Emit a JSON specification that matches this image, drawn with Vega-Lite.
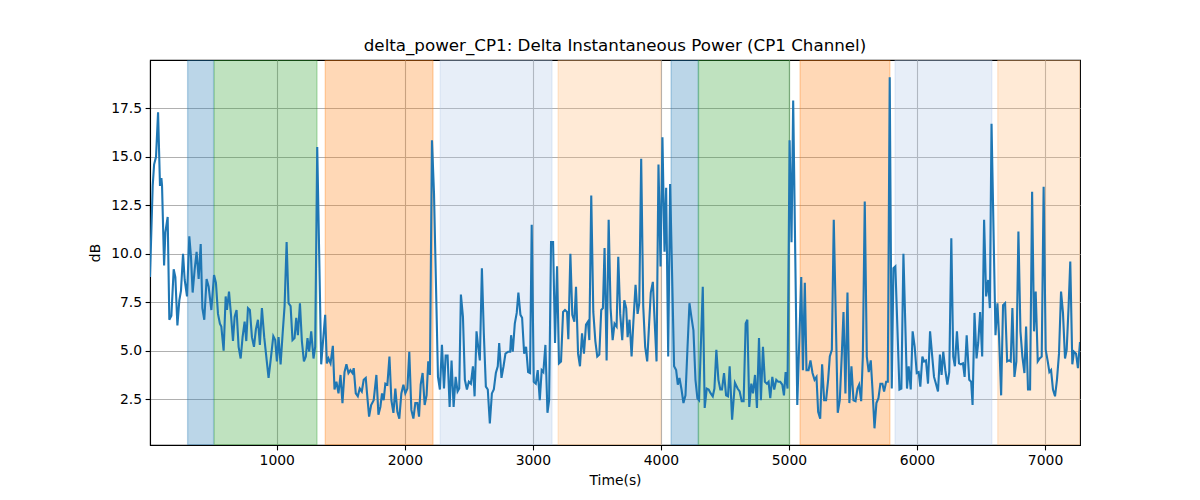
{
  "$schema": "https://vega.github.io/schema/vega-lite/v6.json",
  "autosize": {"type": "none"},
  "width": 930,
  "height": 385,
  "padding": {"left": 150, "top": 60, "right": 120, "bottom": 55},
  "background": "white",
  "config": {
    "font": "DejaVu Sans",
    "view": {"stroke": "black", "strokeWidth": 1.1},
    "axis": {
      "labelFont": "DejaVu Sans", "labelFontSize": 13.9, "labelColor": "black",
      "titleFont": "DejaVu Sans", "titleFontSize": 13.9, "titleFontWeight": "normal", "titleColor": "black",
      "domainColor": "black", "domainWidth": 1.1,
      "tickColor": "black", "tickSize": 4.9, "tickWidth": 1.1,
      "labelPadding": 3.5,
      "grid": true, "gridColor": "#b0b0b0", "gridWidth": 1.1
    },
    "title": {"font": "DejaVu Sans", "fontSize": 16.7, "fontWeight": "normal", "color": "black"}
  },
  "title": {"text": "delta_power_CP1: Delta Instantaneous Power (CP1 Channel)", "anchor": "middle", "frame": "group", "baseline": "alphabetic", "offset": -8},
  "datasets": {
    "bands": [
      {"start": 304, "end": 507, "kind": "A"},
      {"start": 512, "end": 1314, "kind": "B"},
      {"start": 1379, "end": 2220, "kind": "C"},
      {"start": 2277, "end": 3149, "kind": "D"},
      {"start": 3198, "end": 3998, "kind": "E"},
      {"start": 4080, "end": 4293, "kind": "A"},
      {"start": 4293, "end": 5004, "kind": "B"},
      {"start": 5087, "end": 5788, "kind": "C"},
      {"start": 5829, "end": 6584, "kind": "D"},
      {"start": 6631, "end": 7273, "kind": "E"}
    ],
    "signal": [
      {"t":10,"v":8.8},{"t":31,"v":13.5},{"t":42,"v":14.6},{"t":57,"v":15.0},{"t":73,"v":17.3},{"t":88,"v":13.5},{"t":99,"v":13.9},{"t":104,"v":13.5},{"t":120,"v":9.4},{"t":130,"v":11.1},
      {"t":148,"v":11.9},{"t":161,"v":6.6},{"t":177,"v":6.8},{"t":195,"v":9.2},{"t":208,"v":8.8},{"t":224,"v":6.3},{"t":239,"v":7.6},{"t":252,"v":8.1},{"t":268,"v":10.0},{"t":281,"v":8.65},
      {"t":299,"v":7.8},{"t":317,"v":10.9},{"t":330,"v":9.85},{"t":343,"v":8.0},{"t":359,"v":9.2},{"t":374,"v":10.1},{"t":390,"v":8.7},{"t":406,"v":10.5},{"t":419,"v":7.2},{"t":434,"v":6.6},
      {"t":452,"v":8.7},{"t":468,"v":8.3},{"t":489,"v":7.1},{"t":510,"v":8.9},{"t":525,"v":8.5},{"t":541,"v":6.9},{"t":556,"v":6.4},{"t":567,"v":6.25},{"t":585,"v":5.0},{"t":601,"v":7.8},
      {"t":611,"v":7.1},{"t":627,"v":8.05},{"t":642,"v":6.9},{"t":658,"v":5.5},{"t":671,"v":6.75},{"t":686,"v":7.1},{"t":702,"v":5.2},{"t":718,"v":4.6},{"t":733,"v":5.7},{"t":749,"v":6.5},
      {"t":762,"v":5.5},{"t":775,"v":7.2},{"t":790,"v":7.1},{"t":806,"v":5.7},{"t":822,"v":5.2},{"t":837,"v":6.1},{"t":853,"v":6.6},{"t":868,"v":5.3},{"t":884,"v":7.2},{"t":902,"v":5.7},
      {"t":936,"v":3.6},{"t":952,"v":4.5},{"t":973,"v":5.75},{"t":988,"v":5.55},{"t":1001,"v":4.45},{"t":1014,"v":5.7},{"t":1030,"v":4.3},{"t":1046,"v":5.9},{"t":1061,"v":7.3},{"t":1077,"v":10.6},
      {"t":1092,"v":7.45},{"t":1108,"v":7.3},{"t":1123,"v":5.55},{"t":1139,"v":5.65},{"t":1152,"v":6.7},{"t":1165,"v":5.8},{"t":1181,"v":7.45},{"t":1196,"v":5.5},{"t":1212,"v":4.45},{"t":1227,"v":4.7},
      {"t":1240,"v":5.65},{"t":1253,"v":4.95},{"t":1269,"v":6.0},{"t":1287,"v":4.6},{"t":1300,"v":5.2},{"t":1316,"v":15.5},{"t":1347,"v":4.3},{"t":1362,"v":5.55},{"t":1378,"v":6.85},{"t":1391,"v":4.35},
      {"t":1404,"v":4.6},{"t":1420,"v":4.35},{"t":1438,"v":5.25},{"t":1451,"v":3.0},{"t":1466,"v":3.4},{"t":1482,"v":2.8},{"t":1498,"v":3.75},{"t":1513,"v":2.3},{"t":1529,"v":3.9},{"t":1544,"v":4.3},
      {"t":1560,"v":3.85},{"t":1575,"v":4.0},{"t":1591,"v":3.85},{"t":1601,"v":4.1},{"t":1617,"v":2.8},{"t":1633,"v":2.65},{"t":1648,"v":3.05},{"t":1664,"v":2.9},{"t":1679,"v":3.5},{"t":1695,"v":3.6},
      {"t":1705,"v":2.8},{"t":1721,"v":1.6},{"t":1737,"v":2.2},{"t":1757,"v":2.45},{"t":1778,"v":3.75},{"t":1794,"v":1.7},{"t":1809,"v":2.1},{"t":1822,"v":2.8},{"t":1835,"v":2.45},{"t":1848,"v":3.3},
      {"t":1864,"v":3.25},{"t":1880,"v":4.7},{"t":1895,"v":2.45},{"t":1911,"v":1.8},{"t":1926,"v":3.05},{"t":1942,"v":1.85},{"t":1957,"v":1.5},{"t":1973,"v":2.8},{"t":1989,"v":3.25},{"t":2004,"v":2.8},
      {"t":2020,"v":3.05},{"t":2035,"v":4.95},{"t":2051,"v":1.95},{"t":2067,"v":1.5},{"t":2082,"v":2.3},{"t":2098,"v":2.3},{"t":2111,"v":1.6},{"t":2124,"v":3.25},{"t":2139,"v":3.85},{"t":2155,"v":2.2},
      {"t":2170,"v":2.7},{"t":2183,"v":4.45},{"t":2196,"v":3.75},{"t":2212,"v":15.85},{"t":2228,"v":13.1},{"t":2259,"v":3.65},{"t":2274,"v":3.0},{"t":2290,"v":5.3},{"t":2306,"v":3.05},{"t":2319,"v":4.75},
      {"t":2334,"v":4.75},{"t":2350,"v":2.1},{"t":2365,"v":4.5},{"t":2381,"v":2.1},{"t":2397,"v":3.65},{"t":2412,"v":2.9},{"t":2425,"v":3.05},{"t":2438,"v":7.9},{"t":2454,"v":6.75},{"t":2469,"v":3.5},
      {"t":2485,"v":3.0},{"t":2500,"v":3.4},{"t":2516,"v":3.3},{"t":2532,"v":4.2},{"t":2545,"v":2.65},{"t":2560,"v":6.0},{"t":2573,"v":5.2},{"t":2586,"v":4.5},{"t":2602,"v":9.25},{"t":2617,"v":5.9},
      {"t":2633,"v":3.15},{"t":2648,"v":3.0},{"t":2664,"v":1.25},{"t":2680,"v":2.8},{"t":2695,"v":3.0},{"t":2711,"v":3.85},{"t":2726,"v":4.2},{"t":2737,"v":5.4},{"t":2755,"v":3.6},{"t":2771,"v":4.2},
      {"t":2786,"v":4.85},{"t":2807,"v":4.95},{"t":2823,"v":4.95},{"t":2830,"v":5.8},{"t":2843,"v":4.95},{"t":2859,"v":6.4},{"t":2874,"v":6.95},{"t":2887,"v":8.0},{"t":2903,"v":6.85},{"t":2916,"v":6.7},
      {"t":2932,"v":4.85},{"t":2947,"v":5.2},{"t":2963,"v":3.9},{"t":2978,"v":3.85},{"t":2991,"v":11.5},{"t":3007,"v":3.4},{"t":3023,"v":3.3},{"t":3038,"v":4.0},{"t":3054,"v":2.45},{"t":3069,"v":4.0},
      {"t":3082,"v":3.9},{"t":3098,"v":5.3},{"t":3114,"v":1.8},{"t":3127,"v":2.45},{"t":3142,"v":10.6},{"t":3158,"v":10.6},{"t":3173,"v":5.4},{"t":3189,"v":9.35},{"t":3204,"v":4.35},{"t":3220,"v":4.45},
      {"t":3236,"v":7.0},{"t":3251,"v":7.1},{"t":3267,"v":7.0},{"t":3277,"v":5.6},{"t":3293,"v":10.0},{"t":3308,"v":6.85},{"t":3324,"v":6.5},{"t":3337,"v":8.3},{"t":3353,"v":4.85},{"t":3368,"v":4.2},
      {"t":3384,"v":5.9},{"t":3399,"v":4.85},{"t":3415,"v":6.35},{"t":3430,"v":6.5},{"t":3441,"v":5.55},{"t":3456,"v":13.0},{"t":3472,"v":7.0},{"t":3488,"v":5.5},{"t":3503,"v":4.7},{"t":3519,"v":4.8},
      {"t":3534,"v":7.1},{"t":3547,"v":7.2},{"t":3560,"v":10.3},{"t":3576,"v":4.5},{"t":3592,"v":11.75},{"t":3607,"v":7.2},{"t":3623,"v":5.55},{"t":3638,"v":6.4},{"t":3654,"v":6.25},{"t":3667,"v":9.85},
      {"t":3682,"v":6.9},{"t":3698,"v":5.55},{"t":3714,"v":7.6},{"t":3729,"v":7.2},{"t":3740,"v":5.7},{"t":3755,"v":6.6},{"t":3771,"v":4.7},{"t":3786,"v":6.6},{"t":3802,"v":8.4},{"t":3818,"v":6.9},
      {"t":3831,"v":7.45},{"t":3846,"v":14.9},{"t":3862,"v":7.3},{"t":3877,"v":5.2},{"t":3893,"v":4.45},{"t":3908,"v":6.4},{"t":3921,"v":8.0},{"t":3937,"v":8.55},{"t":3953,"v":6.25},{"t":3966,"v":4.45},
      {"t":3981,"v":14.6},{"t":3997,"v":9.35},{"t":4012,"v":16.0},{"t":4028,"v":10.1},{"t":4041,"v":13.4},{"t":4057,"v":4.7},{"t":4072,"v":13.6},{"t":4103,"v":4.2},{"t":4119,"v":4.0},{"t":4132,"v":3.25},
      {"t":4145,"v":3.6},{"t":4161,"v":3.0},{"t":4176,"v":2.3},{"t":4192,"v":2.7},{"t":4207,"v":5.05},{"t":4223,"v":7.45},{"t":4238,"v":6.75},{"t":4254,"v":6.05},{"t":4270,"v":3.5},{"t":4285,"v":2.55},
      {"t":4298,"v":2.45},{"t":4327,"v":8.3},{"t":4342,"v":2.05},{"t":4358,"v":3.05},{"t":4373,"v":3.0},{"t":4389,"v":2.8},{"t":4405,"v":2.65},{"t":4418,"v":3.05},{"t":4433,"v":5.05},{"t":4449,"v":3.5},
      {"t":4464,"v":3.0},{"t":4477,"v":3.0},{"t":4493,"v":3.85},{"t":4509,"v":2.7},{"t":4524,"v":2.65},{"t":4537,"v":4.2},{"t":4556,"v":1.45},{"t":4578,"v":3.35},{"t":4599,"v":3.05},{"t":4615,"v":2.9},
      {"t":4631,"v":2.4},{"t":4646,"v":2.4},{"t":4662,"v":6.4},{"t":4675,"v":6.6},{"t":4690,"v":2.1},{"t":4706,"v":3.3},{"t":4719,"v":2.8},{"t":4735,"v":3.75},{"t":4750,"v":2.05},{"t":4766,"v":5.65},
      {"t":4781,"v":2.45},{"t":4797,"v":5.2},{"t":4812,"v":3.4},{"t":4828,"v":3.3},{"t":4841,"v":3.4},{"t":4854,"v":2.55},{"t":4870,"v":3.65},{"t":4885,"v":3.0},{"t":4901,"v":3.5},{"t":4916,"v":3.4},
      {"t":4932,"v":3.4},{"t":4948,"v":3.25},{"t":4961,"v":2.7},{"t":4974,"v":3.9},{"t":4989,"v":3.05},{"t":5005,"v":15.85},{"t":5020,"v":10.6},{"t":5033,"v":17.9},{"t":5065,"v":2.2},{"t":5096,"v":8.8},
      {"t":5109,"v":4.0},{"t":5124,"v":8.5},{"t":5137,"v":4.0},{"t":5153,"v":4.0},{"t":5168,"v":4.5},{"t":5184,"v":3.85},{"t":5200,"v":3.5},{"t":5215,"v":3.65},{"t":5228,"v":1.85},{"t":5244,"v":1.5},
      {"t":5259,"v":4.3},{"t":5275,"v":2.45},{"t":5290,"v":2.45},{"t":5306,"v":3.5},{"t":5319,"v":4.7},{"t":5335,"v":5.05},{"t":5350,"v":11.75},{"t":5381,"v":1.8},{"t":5397,"v":2.45},{"t":5413,"v":4.85},
      {"t":5426,"v":7.0},{"t":5441,"v":2.8},{"t":5457,"v":8.0},{"t":5472,"v":2.3},{"t":5488,"v":4.2},{"t":5504,"v":2.45},{"t":5520,"v":2.4},{"t":5535,"v":3.05},{"t":5548,"v":3.25},{"t":5564,"v":2.4},
      {"t":5577,"v":4.7},{"t":5592,"v":12.7},{"t":5608,"v":4.7},{"t":5623,"v":3.9},{"t":5639,"v":4.5},{"t":5652,"v":3.05},{"t":5668,"v":1.0},{"t":5683,"v":2.3},{"t":5699,"v":2.55},{"t":5714,"v":3.3},
      {"t":5730,"v":3.3},{"t":5743,"v":2.9},{"t":5759,"v":3.4},{"t":5772,"v":3.4},{"t":5787,"v":19.1},{"t":5803,"v":3.05},{"t":5816,"v":9.25},{"t":5831,"v":9.35},{"t":5863,"v":3.0},{"t":5878,"v":3.05},
      {"t":5894,"v":10.0},{"t":5922,"v":3.05},{"t":5935,"v":4.2},{"t":5951,"v":3.0},{"t":5966,"v":6.0},{"t":5982,"v":5.2},{"t":5998,"v":3.85},{"t":6013,"v":3.9},{"t":6026,"v":3.15},{"t":6042,"v":4.7},
      {"t":6055,"v":4.45},{"t":6070,"v":4.5},{"t":6086,"v":3.3},{"t":6102,"v":6.0},{"t":6117,"v":4.85},{"t":6133,"v":3.65},{"t":6148,"v":3.3},{"t":6164,"v":2.9},{"t":6179,"v":4.8},{"t":6192,"v":3.75},
      {"t":6205,"v":4.95},{"t":6221,"v":4.0},{"t":6237,"v":3.25},{"t":6252,"v":3.9},{"t":6268,"v":10.8},{"t":6283,"v":4.7},{"t":6296,"v":4.2},{"t":6312,"v":6.0},{"t":6328,"v":4.35},{"t":6343,"v":4.3},
      {"t":6359,"v":4.35},{"t":6372,"v":3.65},{"t":6388,"v":5.8},{"t":6408,"v":3.5},{"t":6423,"v":3.4},{"t":6434,"v":2.2},{"t":6449,"v":6.95},{"t":6465,"v":4.6},{"t":6478,"v":5.4},{"t":6493,"v":7.0},
      {"t":6509,"v":4.7},{"t":6524,"v":11.75},{"t":6540,"v":7.8},{"t":6556,"v":8.65},{"t":6569,"v":7.2},{"t":6582,"v":16.7},{"t":6613,"v":5.8},{"t":6628,"v":7.45},{"t":6641,"v":5.7},{"t":6657,"v":2.7},
      {"t":6672,"v":7.35},{"t":6688,"v":7.45},{"t":6704,"v":4.45},{"t":6719,"v":4.5},{"t":6732,"v":4.45},{"t":6745,"v":7.2},{"t":6761,"v":3.65},{"t":6776,"v":4.45},{"t":6792,"v":11.15},{"t":6808,"v":6.0},
      {"t":6823,"v":4.7},{"t":6839,"v":3.85},{"t":6852,"v":6.25},{"t":6867,"v":3.0},{"t":6883,"v":3.0},{"t":6899,"v":13.2},{"t":6914,"v":6.0},{"t":6927,"v":8.05},{"t":6943,"v":4.45},{"t":6958,"v":4.6},
      {"t":6974,"v":4.7},{"t":6989,"v":13.45},{"t":7005,"v":5.05},{"t":7021,"v":4.45},{"t":7034,"v":3.9},{"t":7047,"v":4.0},{"t":7062,"v":3.0},{"t":7078,"v":2.65},{"t":7093,"v":3.5},{"t":7109,"v":4.85},
      {"t":7125,"v":8.05},{"t":7140,"v":6.95},{"t":7156,"v":4.6},{"t":7169,"v":5.05},{"t":7184,"v":7.3},{"t":7197,"v":9.6},{"t":7213,"v":4.3},{"t":7226,"v":4.95},{"t":7242,"v":4.85},{"t":7257,"v":4.1},
      {"t":7273,"v":5.45}
    ]
  },
  "layer": [
    {
      "data": {"name": "bands"},
      "mark": {"type": "rect", "fillOpacity": 0.3, "strokeOpacity": 0.3, "strokeWidth": 1.4, "clip": true},
      "encoding": {
        "x": {"field": "start", "type": "quantitative", "scale": {"domain": [10, 7273], "nice": false, "zero": false},
              "axis": {"title": "Time(s)", "values": [1000, 2000, 3000, 4000, 5000, 6000, 7000], "format": "d", "titlePadding": 6}},
        "x2": {"field": "end"},
        "fill": {"field": "kind", "type": "nominal", "scale": {"domain": ["A", "B", "C", "D", "E"], "range": ["#1f77b4", "#2ca02c", "#ff7f0e", "#aec7e8", "#ffbb78"]}, "legend": null},
        "stroke": {"field": "kind", "type": "nominal", "scale": {"domain": ["A", "B", "C", "D", "E"], "range": ["#1f77b4", "#2ca02c", "#ff7f0e", "#aec7e8", "#ffbb78"]}, "legend": null}
      }
    },
    {
      "data": {"name": "signal"},
      "mark": {"type": "line", "color": "#1f77b4", "strokeWidth": 2.1, "clip": true},
      "encoding": {
        "x": {"field": "t", "type": "quantitative", "scale": {"domain": [10, 7273], "nice": false, "zero": false},
              "axis": {"title": "Time(s)", "values": [1000, 2000, 3000, 4000, 5000, 6000, 7000], "format": "d", "titlePadding": 6}},
        "y": {"field": "v", "type": "quantitative", "scale": {"domain": [0.14, 19.99], "nice": false, "zero": false},
              "axis": {"title": "dB", "values": [2.5, 5, 7.5, 10, 12.5, 15, 17.5], "format": ".1f", "titlePadding": 8}}
      }
    }
  ]
}
